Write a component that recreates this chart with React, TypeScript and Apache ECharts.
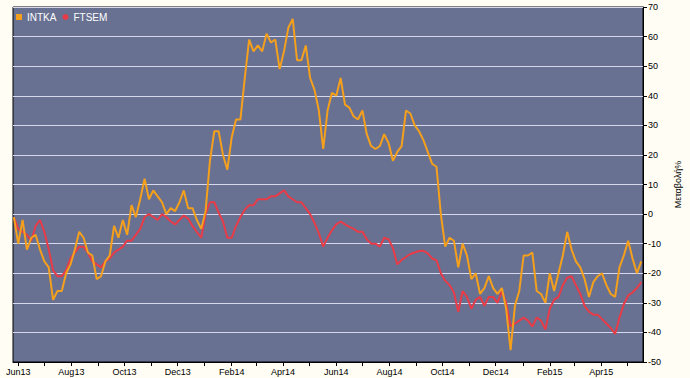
import React, { useEffect, useRef } from "react";
import * as echarts from "echarts";

// Axis range (daily categories)
const AXIS_START = "2013-05-26";
const AXIS_END = "2015-05-19";
// Sampled observations: first date and spacing in days
const SAMPLE_START = "2013-05-27";
const SAMPLE_STEP_DAYS = 5;

const MONTHS = ["Jan", "Feb", "Mar", "Apr", "May", "Jun", "Jul", "Aug", "Sep", "Oct", "Nov", "Dec"];

const INTKA = [
  -1, -10, -2, -12, -8, -7, -12, -16, -18, -29,
  -26, -26, -20, -17, -12, -6, -8, -13, -14, -22,
  -21, -16, -14, -4, -8, -2, -7, 3, -1, 5,
  12, 5, 8, 6, 4, 0, 2, 1, 4, 8,
  2, 2, -2, -5, 1, 18, 28, 28, 20, 15,
  26, 32, 32, 46, 59, 55, 57, 55, 61, 58,
  59, 49, 55, 63, 66, 52, 52, 57, 46, 42,
  35, 22, 35, 41, 40, 46, 37, 36, 33, 32,
  35, 27, 23, 22, 23, 27, 24, 18, 21, 23,
  35, 34, 30, 28, 25, 21, 17, 16, 0, -11,
  -8, -9, -18, -10, -14, -22, -20, -27, -25, -21,
  -25, -27, -25, -32, -46, -31, -26, -14, -14, -13,
  -26, -27, -30, -20, -26, -20, -14, -6, -12, -16,
  -18, -22, -28, -23, -21, -20, -24, -27, -28, -18,
  -14, -9, -15, -20, -16,
];

const FTSEM = [
  -1, -5, -6, -7, -9, -4, -2, -6, -12, -19,
  -21, -21, -19, -15, -13, -11, -11, -13, -16, -17,
  -18, -16, -15, -13, -12, -11, -9, -9, -7, -5,
  -1, 0, -1, -2, 0, -1, -2.5, -3.5, -2, -0.5,
  -1.5, -4, -6, -8, 0, 4, 4, 0.5, -2.5, -8,
  -8, -4, -1, 1.5, 3, 3, 5, 5, 5, 6,
  6, 7, 8, 6, 5, 4, 4, 2, 0, -3,
  -6.5, -11, -8, -5.5, -3.5, -2.5, -3.5, -4.3, -5, -6,
  -6, -8.5, -10, -10, -11, -8, -8.5, -11.5, -17, -15.5,
  -14.5, -13.5, -13, -12.5, -12.4, -13.3, -15, -15.6, -20, -22.5,
  -24, -26.5, -33, -26, -28, -32, -29, -28, -31, -28,
  -28, -30, -26, -30, -38, -37, -36, -35, -36, -38,
  -35, -36, -39, -32, -29, -28, -24, -21.5, -21, -24,
  -27, -31, -33, -34, -34, -35.5, -37, -38.5, -40.5, -35,
  -30.5, -27.5, -26.5, -25, -23,
];

const Y_MIN = -50;
const Y_MAX = 70;
const Y_STEP = 10;

const FONT = "Liberation Sans, Arial, sans-serif";

function isoDay(ms: number) {
  return new Date(ms).toISOString().slice(0, 10);
}

function buildCategories() {
  const out: string[] = [];
  const s = Date.parse(AXIS_START + "T00:00:00Z");
  const e = Date.parse(AXIS_END + "T00:00:00Z");
  for (let t = s; t <= e; t += 86400000) out.push(isoDay(t));
  return out;
}

function buildSeries(cats: string[], values: number[]) {
  const arr: (number | null)[] = cats.map(() => null);
  const s = Date.parse(SAMPLE_START + "T00:00:00Z");
  values.forEach((v, i) => {
    const d = isoDay(s + i * SAMPLE_STEP_DAYS * 86400000);
    const idx = cats.indexOf(d);
    if (idx >= 0) arr[idx] = v;
  });
  return arr;
}

export default function App() {
  const ref = useRef<HTMLDivElement>(null);

  useEffect(() => {
    if (!ref.current) return;
    const chart = echarts.init(ref.current, undefined, { renderer: "svg" });
    const cats = buildCategories();
    const isMonthStart = (_i: number, v: string) => v.slice(8) === "01";
    const isLabelMonth = (_i: number, v: string) =>
      v.slice(8) === "01" && parseInt(v.slice(5, 7), 10) % 2 === 0;

    chart.setOption({
      animation: false,
      backgroundColor: "#FFFDF4",
      grid: {
        left: 13,
        right: 40,
        top: 7,
        bottom: 16,
        show: true,
        backgroundColor: "#687192",
        borderColor: "#000",
        borderWidth: 1,
      },
      legend: {
        left: 11,
        top: 7,
        itemWidth: 6,
        itemHeight: 6,
        itemGap: 6,
        textStyle: { color: "#ffffff", fontSize: 10, fontFamily: FONT },
        data: [
          { name: "INTKA", icon: "rect" },
          { name: "FTSEM", icon: "circle" },
        ],
      },
      xAxis: {
        type: "category",
        data: cats,
        boundaryGap: false,
        axisLine: { show: true, onZero: false, lineStyle: { color: "#000" } },
        axisTick: { show: true, interval: isMonthStart, length: 4, lineStyle: { color: "#000" } },
        axisLabel: {
          interval: isLabelMonth,
          margin: 5,
          color: "#000",
          fontSize: 9,
          fontFamily: FONT,
          formatter: (v: string) => MONTHS[parseInt(v.slice(5, 7), 10) - 1] + v.slice(2, 4),
        },
        splitLine: { show: false },
      },
      yAxis: {
        type: "value",
        position: "right",
        min: Y_MIN,
        max: Y_MAX,
        interval: Y_STEP,
        name: "Μεταβολή%",
        nameLocation: "middle",
        nameRotate: 90,
        nameGap: 30,
        nameTextStyle: { color: "#000", fontSize: 9, fontFamily: FONT },
        axisLine: { show: true, lineStyle: { color: "#000" } },
        axisTick: { show: true, length: 4, lineStyle: { color: "#000" } },
        axisLabel: { color: "#000", fontSize: 9, fontFamily: FONT, margin: 5 },
        splitLine: { show: true, lineStyle: { color: "#D6D9EE", width: 1 } },
      },
      series: [
        {
          name: "INTKA",
          type: "line",
          data: buildSeries(cats, INTKA),
          connectNulls: true,
          showSymbol: false,
          symbol: "none",
          itemStyle: { color: "#F5A01C" },
          lineStyle: { color: "#F5A01C", width: 2 },
          z: 3,
        },
        {
          name: "FTSEM",
          type: "line",
          data: buildSeries(cats, FTSEM),
          connectNulls: true,
          showSymbol: false,
          symbol: "none",
          itemStyle: { color: "#E83B48" },
          lineStyle: { color: "#E83B48", width: 2 },
          z: 2,
        },
      ],
    });
    return () => chart.dispose();
  }, []);

  return (
    <div
      ref={ref}
      style={{ position: "fixed", left: 0, top: 0, width: 690, height: 378 }}
    />
  );
}
